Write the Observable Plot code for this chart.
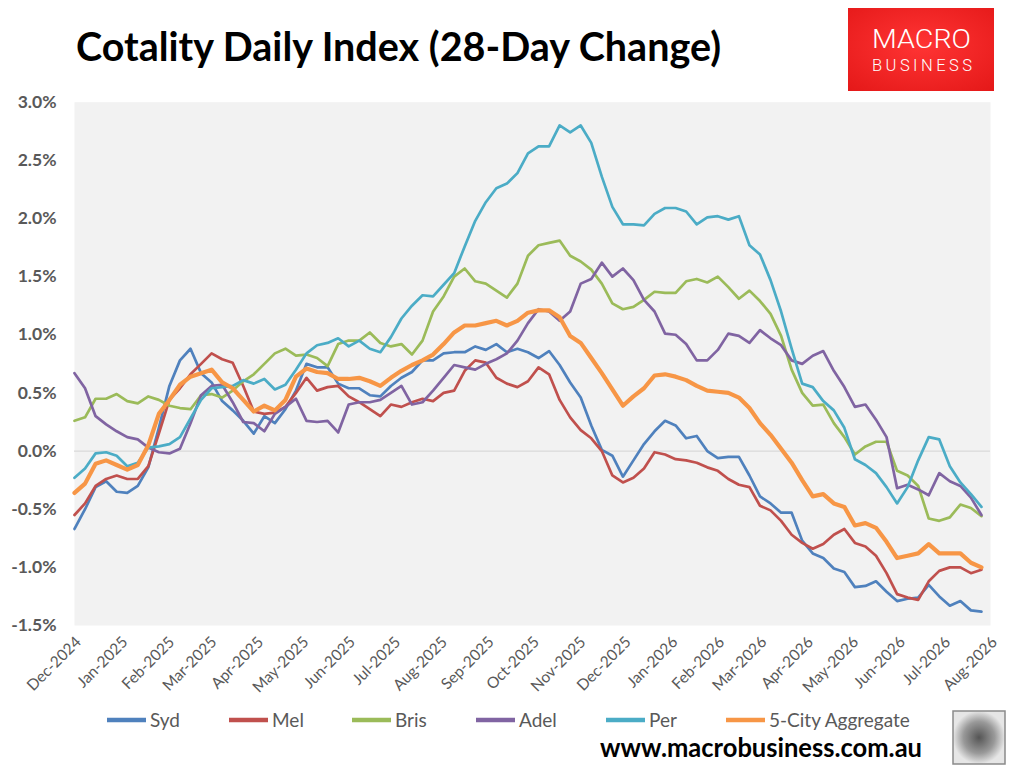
<!DOCTYPE html>
<html><head><meta charset="utf-8">
<script src="https://cdn.jsdelivr.net/npm/d3@7"></script>
<script src="https://cdn.jsdelivr.net/npm/@observablehq/plot@0.6"></script>
<style>
body{margin:0;background:#fff;}
#wrap{position:relative;width:1009px;height:767px;overflow:hidden;font-family:Lato,"Open Sans",sans-serif;}
#chart{position:absolute;left:0;top:91px;}
#over{position:absolute;left:0;top:0;}
</style></head><body>
<div id="wrap"><div id="chart"></div><svg id="over" width="1009" height="767"></svg></div>
<script>
// ---- data (28-day % change) ----
const seriesNames = ["Syd", "Mel", "Bris", "Adel", "Per", "5-City Aggregate"];
const seriesColors = ["#4f81bd", "#c0504d", "#9bbb59", "#8064a2", "#4bacc6", "#f79646"];
const firstDate = "2024-12-01"; // one reading every 7 days
const syd = [-0.67,-0.5,-0.31,-0.26,-0.35,-0.36,-0.3,-0.14,0.2,0.56, 0.78,0.88,0.67,0.59,0.43,0.35,0.26,0.15,0.3,0.24, 0.36,0.52,0.75,0.72,0.72,0.58,0.54,0.54,0.48,0.47, 0.56,0.63,0.68,0.78,0.78,0.84,0.85,0.85,0.9,0.87, 0.92,0.85,0.88,0.85,0.8,0.86,0.74,0.59,0.46,0.22, 0.01,-0.04,-0.22,-0.08,0.06,0.17,0.26,0.22,0.11,0.13, 0.0,-0.06,-0.05,-0.05,-0.21,-0.39,-0.45,-0.53,-0.53,-0.77, -0.88,-0.92,-1.01,-1.04,-1.17,-1.16,-1.12,-1.21,-1.29,-1.27, -1.26,-1.15,-1.25,-1.33,-1.29,-1.37,-1.38];
const mel = [-0.55,-0.45,-0.3,-0.24,-0.21,-0.24,-0.24,-0.13,0.15,0.44, 0.54,0.66,0.75,0.84,0.79,0.76,0.56,0.34,0.32,0.33, 0.38,0.5,0.63,0.52,0.55,0.56,0.47,0.42,0.36,0.3, 0.4,0.38,0.42,0.45,0.43,0.5,0.52,0.69,0.78,0.76, 0.63,0.58,0.55,0.6,0.72,0.66,0.44,0.29,0.18,0.11, 0.0,-0.21,-0.27,-0.23,-0.15,-0.01,-0.03,-0.07,-0.08,-0.1, -0.14,-0.17,-0.24,-0.29,-0.31,-0.47,-0.51,-0.6,-0.72,-0.79, -0.84,-0.8,-0.72,-0.67,-0.79,-0.82,-0.9,-1.05,-1.23,-1.26, -1.28,-1.12,-1.03,-1.0,-1.0,-1.05,-1.02];
const bris = [0.26,0.29,0.45,0.45,0.49,0.43,0.41,0.47,0.44,0.39, 0.37,0.36,0.48,0.49,0.46,0.52,0.6,0.66,0.75,0.84, 0.88,0.82,0.83,0.8,0.73,0.92,0.95,0.95,1.02,0.93, 0.9,0.92,0.83,0.95,1.2,1.33,1.5,1.57,1.46,1.44, 1.38,1.32,1.44,1.68,1.77,1.79,1.81,1.68,1.63,1.56, 1.44,1.27,1.22,1.24,1.3,1.37,1.36,1.36,1.46,1.48, 1.45,1.5,1.41,1.31,1.38,1.29,1.18,0.99,0.7,0.5, 0.39,0.4,0.24,0.12,-0.03,0.04,0.08,0.08,-0.17,-0.21, -0.3,-0.58,-0.6,-0.57,-0.46,-0.49,-0.56];
const adel = [0.67,0.54,0.3,0.23,0.17,0.12,0.1,0.03,-0.01,-0.02, 0.02,0.24,0.48,0.56,0.57,0.42,0.25,0.24,0.17,0.32, 0.38,0.45,0.26,0.25,0.26,0.16,0.4,0.42,0.42,0.44, 0.5,0.56,0.4,0.42,0.52,0.63,0.74,0.72,0.7,0.75, 0.79,0.84,0.95,1.1,1.22,1.2,1.12,1.2,1.44,1.48, 1.62,1.5,1.57,1.47,1.3,1.2,1.01,1.0,0.92,0.78, 0.78,0.87,1.01,0.99,0.93,1.04,0.97,0.91,0.78,0.75, 0.82,0.86,0.69,0.55,0.38,0.4,0.27,0.12,-0.32,-0.29, -0.33,-0.38,-0.19,-0.26,-0.3,-0.4,-0.55];
const per = [-0.23,-0.15,-0.02,-0.01,-0.04,-0.13,-0.1,0.03,0.04,0.06, 0.12,0.28,0.44,0.54,0.55,0.56,0.61,0.58,0.62,0.53, 0.57,0.7,0.84,0.91,0.93,0.97,0.9,0.95,0.88,0.85, 0.98,1.14,1.25,1.34,1.33,1.43,1.53,1.76,1.98,2.14, 2.26,2.3,2.39,2.56,2.62,2.62,2.8,2.74,2.8,2.65, 2.36,2.1,1.95,1.95,1.94,2.04,2.09,2.09,2.06,1.95, 2.01,2.02,1.99,2.02,1.77,1.69,1.47,1.2,0.88,0.58, 0.55,0.43,0.35,0.2,-0.07,-0.12,-0.19,-0.31,-0.45,-0.31, -0.08,0.12,0.1,-0.13,-0.27,-0.37,-0.48];
const agg = [-0.36,-0.28,-0.11,-0.08,-0.12,-0.16,-0.12,0.05,0.32,0.44, 0.57,0.64,0.67,0.7,0.59,0.54,0.44,0.34,0.39,0.35, 0.44,0.64,0.71,0.68,0.67,0.62,0.62,0.63,0.6,0.56, 0.63,0.69,0.74,0.78,0.83,0.92,1.02,1.08,1.08,1.1, 1.12,1.08,1.12,1.19,1.21,1.21,1.15,0.99,0.93,0.8, 0.67,0.53,0.39,0.47,0.54,0.65,0.66,0.64,0.61,0.56, 0.52,0.51,0.5,0.46,0.37,0.24,0.14,0.02,-0.1,-0.25, -0.39,-0.37,-0.45,-0.48,-0.64,-0.62,-0.66,-0.78,-0.92,-0.9, -0.88,-0.8,-0.88,-0.88,-0.88,-0.96,-1.0];
const yTicks = [-1.5, -1.0, -0.5, 0.0, 0.5, 1.0, 1.5, 2.0, 2.5, 3.0];
const xDomain = ["2024-12-01", "2026-08-01"];

// ---- build ----
const seriesValues = [syd, mel, bris, adel, per, agg];
const t0 = new Date(firstDate);
const rowsFor = vals => vals.map((v, i) => ({date: d3.utcDay.offset(t0, 7 * i), value: v}));
const monthTicks = d3.utcMonth.range(new Date(xDomain[0]), d3.utcDay.offset(new Date(xDomain[1]), 1));

const lineMarks = seriesValues.map((vals, k) =>
  Plot.line(rowsFor(vals), {x: "date", y: "value", stroke: seriesColors[k],
    strokeWidth: k === 5 ? 4.2 : 2.7, strokeLinejoin: "round", strokeLinecap: "round"}));

const chart = Plot.plot({
  width: 1009, height: 604,
  marginLeft: 74, marginRight: 19, marginTop: 10.7, marginBottom: 70,
  style: {fontFamily: "Lato, 'Open Sans', sans-serif", fontSize: "14px", color: "#595959", background: "transparent"},
  x: {type: "utc", domain: xDomain.map(d => new Date(d))},
  y: {domain: [-1.5, 3.0]},
  marks: [
    Plot.frame({fill: "#f2f2f2", stroke: "none"}),
    Plot.ruleY([0], {stroke: "#d9d9d9", strokeWidth: 1.3}),
    ...lineMarks,
    Plot.axisY({ticks: yTicks, tickFormat: d => d.toFixed(1) + "%", tickSize: 0, tickPadding: 18,
      fontWeight: "bold", fontSize: 17.5, label: null}),
    Plot.axisX({ticks: monthTicks, tickFormat: d3.utcFormat("%b-%Y"), tickRotate: -45, tickSize: 0,
      tickPadding: 14, dx: 4, fontSize: 15.5, label: null})
  ]
});
document.getElementById("chart").appendChild(chart);

// ---- overlay: title, logo, legend, footer ----
const svg = d3.select("#over");
const defs = svg.append("defs");
const g1 = defs.append("radialGradient").attr("id", "red").attr("cx", 0.5).attr("cy", 0.45).attr("r", 0.75);
g1.append("stop").attr("offset", 0).attr("stop-color", "#ff3434");
g1.append("stop").attr("offset", 1).attr("stop-color", "#e41818");
const g2 = defs.append("radialGradient").attr("id", "wolf");
g2.append("stop").attr("offset", 0).attr("stop-color", "#555");
g2.append("stop").attr("offset", 0.6).attr("stop-color", "#999");
g2.append("stop").attr("offset", 1).attr("stop-color", "#e6e6e6");

svg.append("text").attr("x", 76).attr("y", 61)
  .attr("font-family", "Lato, 'Open Sans', sans-serif").attr("font-weight", "bold").attr("font-size", 40)
  .attr("textLength", 645).attr("lengthAdjust", "spacingAndGlyphs").attr("fill", "#000")
  .text("Cotality Daily Index (28-Day Change)");

svg.append("rect").attr("x", 848).attr("y", 8).attr("width", 146).attr("height", 83).attr("fill", "url(#red)");
svg.append("text").attr("x", 872).attr("y", 48).attr("font-family", "Roboto, sans-serif").attr("font-weight", 300)
  .attr("font-size", 26).attr("fill", "#fff").attr("textLength", 99).attr("lengthAdjust", "spacingAndGlyphs").text("MACRO");
svg.append("text").attr("x", 872).attr("y", 71).attr("font-family", "Roboto, sans-serif").attr("font-weight", 300)
  .attr("font-size", 16.5).attr("fill", "#fff").attr("textLength", 100).attr("lengthAdjust", "spacing").text("BUSINESS");

const legendX = [107, 229, 352, 476, 606, 726];
seriesNames.forEach((name, k) => {
  svg.append("line").attr("x1", legendX[k]).attr("x2", legendX[k] + 39).attr("y1", 720).attr("y2", 720)
    .attr("stroke", seriesColors[k]).attr("stroke-width", 4.5);
  svg.append("text").attr("x", legendX[k] + 43).attr("y", 727).attr("font-family", "Lato, sans-serif")
    .attr("font-size", 19).attr("fill", "#595959").text(name);
});

svg.append("text").attr("x", 600).attr("y", 757).attr("font-family", "Lato, sans-serif").attr("font-weight", "bold")
  .attr("font-size", 27).attr("textLength", 322).attr("lengthAdjust", "spacingAndGlyphs").attr("fill", "#000")
  .text("www.macrobusiness.com.au");
svg.append("rect").attr("x", 953).attr("y", 711).attr("width", 52).attr("height", 53)
  .attr("fill", "url(#wolf)").attr("stroke", "#8a8a8a").attr("stroke-width", 1.5);
</script></body></html>
